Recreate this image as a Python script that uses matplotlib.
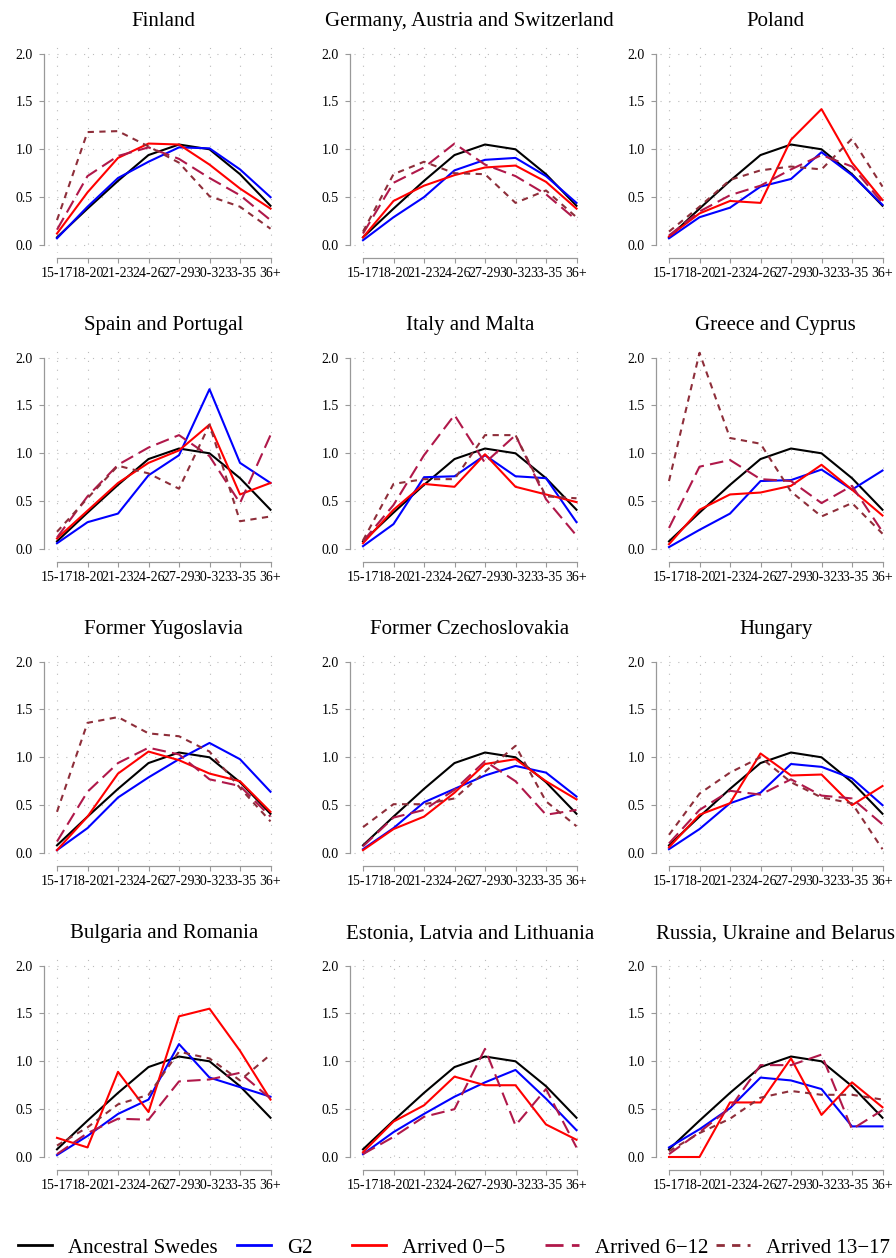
import matplotlib
matplotlib.use("Agg")
import matplotlib.pyplot as plt
import numpy as np

plt.rcParams['font.family'] = ['Liberation Serif', 'DejaVu Serif']

# age groups at birth of first child, and the regions of origin
age_groups = ['15-17', '18-20', '21-23', '24-26', '27-29', '30-32', '33-35', '36+']
regions = ['Finland', 'Germany, Austria and Switzerland', 'Poland',
           'Spain and Portugal', 'Italy and Malta', 'Greece and Cyprus',
           'Former Yugoslavia', 'Former Czechoslovakia', 'Hungary',
           'Bulgaria and Romania', 'Estonia, Latvia and Lithuania',
           'Russia, Ukraine and Belarus']

# same reference curve in every panel
ancestral = [0.08, 0.38, 0.67, 0.94, 1.05, 1.00, 0.74, 0.41]

g2 = [
    [0.07, 0.40, 0.70, 0.87, 1.02, 1.01, 0.79, 0.50],
    [0.05, 0.29, 0.50, 0.78, 0.89, 0.91, 0.72, 0.44],
    [0.07, 0.29, 0.39, 0.61, 0.69, 0.97, 0.73, 0.42],
    [0.06, 0.28, 0.37, 0.77, 0.98, 1.67, 0.90, 0.69],
    [0.03, 0.26, 0.75, 0.76, 0.98, 0.76, 0.74, 0.28],
    [0.02, 0.20, 0.37, 0.71, 0.72, 0.83, 0.62, 0.82],
    [0.03, 0.26, 0.58, 0.79, 0.98, 1.15, 0.98, 0.64],
    [0.04, 0.26, 0.53, 0.67, 0.81, 0.91, 0.84, 0.59],
    [0.04, 0.25, 0.52, 0.63, 0.93, 0.90, 0.78, 0.50],
    [0.02, 0.22, 0.45, 0.60, 1.18, 0.83, 0.73, 0.63],
    [0.03, 0.26, 0.45, 0.63, 0.78, 0.91, 0.61, 0.28],
    [0.10, 0.29, 0.51, 0.83, 0.80, 0.71, 0.32, 0.32],
]

arrived_0_5 = [
    [0.12, 0.55, 0.91, 1.06, 1.05, 0.84, 0.59, 0.38],
    [0.08, 0.46, 0.62, 0.73, 0.81, 0.83, 0.66, 0.38],
    [0.09, 0.33, 0.46, 0.44, 1.10, 1.42, 0.86, 0.47],
    [0.11, 0.40, 0.69, 0.90, 1.03, 1.30, 0.57, 0.69],
    [0.06, 0.41, 0.68, 0.65, 0.99, 0.65, 0.57, 0.49],
    [0.05, 0.41, 0.57, 0.59, 0.66, 0.88, 0.62, 0.35],
    [0.03, 0.38, 0.83, 1.06, 0.97, 0.83, 0.75, 0.43],
    [0.03, 0.25, 0.38, 0.63, 0.93, 0.98, 0.75, 0.56],
    [0.06, 0.40, 0.52, 1.04, 0.81, 0.82, 0.50, 0.70],
    [0.20, 0.10, 0.89, 0.47, 1.47, 1.55, 1.11, 0.60],
    [0.05, 0.37, 0.54, 0.84, 0.75, 0.75, 0.34, 0.18],
    [0.00, 0.00, 0.57, 0.57, 1.03, 0.44, 0.78, 0.52],
]

arrived_6_12 = [
    [0.16, 0.72, 0.93, 1.02, 0.90, 0.70, 0.52, 0.26],
    [0.12, 0.65, 0.81, 1.06, 0.84, 0.72, 0.53, 0.26],
    [0.10, 0.35, 0.52, 0.62, 0.79, 0.94, 0.82, 0.44],
    [0.12, 0.55, 0.88, 1.06, 1.19, 0.97, 0.48, 1.19],
    [0.08, 0.46, 0.98, 1.40, 0.90, 1.19, 0.52, 0.14],
    [0.22, 0.86, 0.93, 0.73, 0.71, 0.48, 0.66, 0.18],
    [0.12, 0.64, 0.94, 1.10, 1.03, 0.77, 0.70, 0.38],
    [0.07, 0.37, 0.45, 0.66, 0.96, 0.75, 0.40, 0.45],
    [0.10, 0.45, 0.65, 0.61, 0.77, 0.60, 0.57, 0.30],
    [0.03, 0.25, 0.40, 0.39, 0.79, 0.81, 0.88, 0.61],
    [0.03, 0.21, 0.42, 0.50, 1.13, 0.33, 0.71, 0.10],
    [0.03, 0.26, 0.51, 0.96, 0.96, 1.07, 0.29, 0.49],
]

# no 13-17 curve for the Baltic states
arrived_13_17 = [
    [0.26, 1.18, 1.19, 1.03, 0.86, 0.51, 0.40, 0.17],
    [0.14, 0.74, 0.87, 0.75, 0.74, 0.44, 0.57, 0.29],
    [0.14, 0.40, 0.68, 0.78, 0.82, 0.79, 1.11, 0.61],
    [0.18, 0.53, 0.87, 0.79, 0.63, 1.30, 0.29, 0.34],
    [0.09, 0.68, 0.73, 0.73, 1.19, 1.19, 0.55, 0.53],
    [0.71, 2.05, 1.16, 1.10, 0.60, 0.34, 0.48, 0.16],
    [0.43, 1.36, 1.42, 1.25, 1.22, 1.06, 0.68, 0.33],
    [0.27, 0.51, 0.51, 0.57, 0.85, 1.12, 0.54, 0.28],
    [0.19, 0.62, 0.84, 1.00, 0.74, 0.58, 0.52, 0.04],
    [0.12, 0.31, 0.55, 0.65, 1.10, 1.03, 0.80, 1.07],
    None,
    [0.06, 0.25, 0.40, 0.62, 0.69, 0.65, 0.65, 0.60],
]

labels = ['Ancestral Swedes', 'G2', 'Arrived 0\u22125', 'Arrived 6\u221212', 'Arrived 13\u221217']
colors = ['black', '#0000FF', '#FF0000', '#B0184A', '#8E2E3A']
styles = ['-', '-', '-', (0, (6.5, 3.0)), (0, (3.0, 2.6))]

W, H = 896, 1258
fig = plt.figure(figsize=(W / 100, H / 100), dpi=100)

# panel layout in pixels: position of the first category / zero line
col_x0 = [57, 363, 669]
row_y0 = [245, 549, 853, 1157]
xppu, yppu = 30.5, 95.7

x = np.arange(len(age_groups))
handles = []
for i, name in enumerate(regions):
    r, c = divmod(i, 3)
    left = col_x0[c] - 0.28 * xppu
    bottom = row_y0[r] + 0.08 * yppu
    ax = fig.add_axes([left / W, (H - bottom) / H, 7.56 * xppu / W, 2.16 * yppu / H])

    series = [ancestral, g2[i], arrived_0_5[i], arrived_6_12[i], arrived_13_17[i]]
    for vals, col, ls, lab in zip(series, colors, styles, labels):
        if vals is None:
            continue
        ln, = ax.plot(x, vals, color=col, linestyle=ls, linewidth=1.5, label=lab)
        if i == 0:
            handles.append(ln)

    ax.set_xlim(-0.28, 7.28)
    ax.set_ylim(-0.08, 2.08)
    ax.set_xticks(x)
    ax.set_xticklabels(age_groups, fontsize=8, color='#111111')
    ax.set_yticks([0, 0.5, 1.0, 1.5, 2.0])
    ax.set_yticklabels(['0.0', '0.5', '1.0', '1.5', '2.0'], fontsize=11.5, color='#666666')
    ax.tick_params(axis='both', direction='out', length=3.5, width=0.8, color='#999999')
    ax.tick_params(axis='y', pad=4.5)
    ax.tick_params(axis='x', pad=3)

    for s in ['top', 'right']:
        ax.spines[s].set_visible(False)
    ax.spines['left'].set_position(('outward', 3.2))
    ax.spines['bottom'].set_position(('outward', 3.9))
    ax.spines['left'].set_bounds(0, 2)
    ax.spines['bottom'].set_bounds(0, 7)
    for s in ['left', 'bottom']:
        ax.spines[s].set_color('#999999')
        ax.spines[s].set_linewidth(0.9)

    ax.grid(True, color='#BBBBBB', linestyle=(0, (1, 7)), linewidth=0.8)
    ax.set_axisbelow(True)
    ax.set_title(name, fontsize=15, pad=14)

# legend keys placed one by one, as in the original (uneven spacing)
legend_x = [18, 237, 352, 545, 716]
for h, lab, lx in zip(handles, labels, legend_x):
    leg = fig.legend([h], [lab], loc='center left', bbox_to_anchor=(lx / W, 0.008),
                     frameon=False, fontsize=15, handlelength=1.65,
                     handletextpad=0.75, borderpad=0, borderaxespad=0)
    for ln in leg.get_lines():
        ln.set_linewidth(2)

fig.savefig('out.png', dpi=100)
